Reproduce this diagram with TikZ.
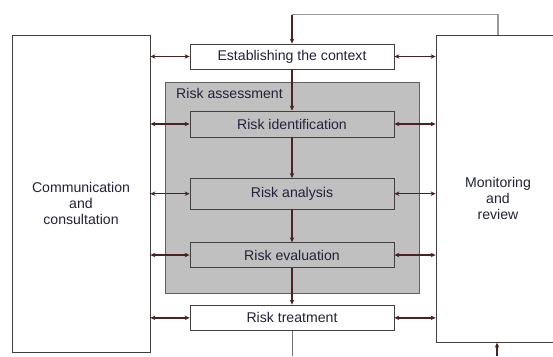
\documentclass[tikz,border=0pt]{standalone}
\usepackage{fontspec}
\setmainfont{Liberation Sans}
\usetikzlibrary{arrows.meta}
\definecolor{txtc}{HTML}{22223A}
\definecolor{arrc}{HTML}{4A2222}
\definecolor{boxgray}{HTML}{C0C0C0}
\definecolor{edgec}{HTML}{404040}
\begin{document}
\begin{tikzpicture}[x=1pt,y=-1pt,
  font=\fontsize{14.1}{16}\selectfont, text=txtc,
  box/.style={draw=edgec, line width=0.8pt, inner sep=0pt, minimum width=204pt},
  bigbox/.style={draw=edgec, line width=0.8pt, fill=white, inner sep=0pt},
  biarrow/.style={draw=arrc, line width=1.4pt, {Stealth[length=5pt,width=4.5pt]}-{Stealth[length=5pt,width=4.5pt]}},
  downarrow/.style={draw=arrc, line width=1.2pt, -{Stealth[length=5pt,width=4.5pt]}},
  feed/.style={draw=gray!80, line width=1.4pt},
  centertext/.style={align=center, inner sep=0pt}]
\clip (0,0) rectangle (553,356);
\fill[white] (0,0) rectangle (553,356);
% big side boxes
\node[bigbox, minimum width=138pt, minimum height=317pt] (comm) at (81,193.5) {};
\node[bigbox, minimum width=164pt, minimum height=307.3pt] (mon) at (518,188.65) {};
\node[centertext] (commtext) at (81,203) {Communication\\and\\consultation};
\node[centertext] (montext) at (498,198.5) {Monitoring\\and\\review};
% risk assessment area
\node[draw=gray!75!black, line width=0.8pt, fill=boxgray, inner sep=0pt, minimum width=254pt, minimum height=211pt] (ra) at (292,187.5) {};
\node[anchor=west, inner sep=0pt] (ralabel) at (176,93) {Risk assessment};
% process boxes
\node[box, fill=white, minimum height=25pt] (ctx) at (292,56.5) {Establishing the context};
\node[box, fill=boxgray, minimum height=26pt] (ident) at (292,124) {Risk identification};
\node[box, fill=boxgray, minimum height=30.7pt] (anal) at (292,193.7) {Risk analysis};
\node[box, fill=boxgray, minimum height=24.6pt] (eval) at (292,255) {Risk evaluation};
\node[box, fill=white, minimum height=25.7pt] (trt) at (292,317.85) {Risk treatment};
% vertical flow
\draw[downarrow] (ctx.south) -- (ident.north);
\draw[downarrow] (ident.south) -- (anal.north);
\draw[downarrow] (anal.south) -- (eval.north);
\draw[downarrow] (eval.south) -- (trt.north);
\coordinate (bot1) at (292,356);
\draw[draw=gray!90!black, line width=0.8pt] (trt.south) -- (bot1);
% feedback loop on top
\coordinate (topr) at (498,14.7);
\coordinate (topl) at (292,14.7);
\draw[feed] (mon.north -| topr) -- (topr) -- (topl);
\draw[downarrow] (topl) -- (ctx.north);
% bottom arrow into monitoring
\coordinate (bot2) at (497,356);
\draw[downarrow] (bot2) -- (mon.south -| bot2);
% two-way arrows
\foreach \n in {ctx,ident,anal,eval,trt}{
  \draw[biarrow] (comm.east |- \n.west) -- (\n.west);
  \draw[biarrow] (\n.east) -- (mon.west |- \n.east);
}
\end{tikzpicture}
\end{document}
